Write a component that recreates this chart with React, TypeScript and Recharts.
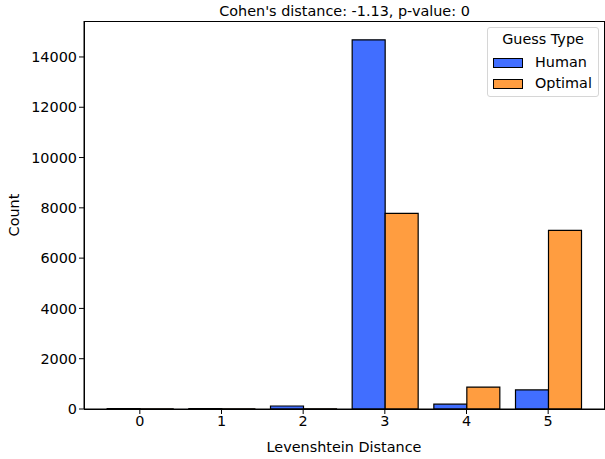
import React from 'react';
import { BarChart, Bar, XAxis, YAxis, Label } from 'recharts';

const categories = ['0', '1', '2', '3', '4', '5'];
const humanCounts = [15, 20, 120, 14680, 190, 760];
const optimalCounts = [5, 5, 10, 7780, 870, 7100];
const yTicks = [0, 2000, 4000, 6000, 8000, 10000, 12000, 14000];
const seriesNames = ['Human', 'Optimal'];
const legendTitle = 'Guess Type';
const chartTitle = "Cohen's distance: -1.13, p-value: 0";

const data = categories.map((c, i) => ({ cat: c, Human: humanCounts[i], Optimal: optimalCounts[i] }));

const FONT = '"DejaVu Sans", sans-serif';
const FS = 14.4;
const HUMAN = '#416eff';
const OPTIMAL = '#ff9d40';

export default function App() {
  return (
    <div style={{ position: 'absolute', left: 0, top: 0, width: 605, height: 459, background: '#fff', fontFamily: FONT }}>
      <BarChart width={605} height={459} data={data} margin={{ top: 21, right: 1, left: 0, bottom: 0 }} barCategoryGap="10%" barGap={0}>
        <XAxis dataKey="cat" height={50} padding={{ left: 15, right: 15 }} stroke="#000" tickSize={5}
          tick={{ fill: '#000', fontSize: FS, fontFamily: FONT }} tickLine={{ stroke: '#000' }} axisLine={{ stroke: '#000' }}>
          <Label value="Levenshtein Distance" position="insideBottom" offset={7} style={{ fill: '#000', fontSize: FS, fontFamily: FONT }} />
        </XAxis>
        <YAxis width={84} domain={[0, 15430]} ticks={yTicks} allowDataOverflow stroke="#000" tickSize={5}
          tick={{ fill: '#000', fontSize: FS, fontFamily: FONT }} tickLine={{ stroke: '#000' }} axisLine={{ stroke: '#000' }}>
          <Label value="Count" angle={-90} position="insideLeft" offset={14} style={{ fill: '#000', fontSize: FS, fontFamily: FONT, textAnchor: 'middle' }} />
        </YAxis>
        <Bar dataKey="Human" fill={HUMAN} stroke="#000" strokeWidth={1.2} isAnimationActive={false} />
        <Bar dataKey="Optimal" fill={OPTIMAL} stroke="#000" strokeWidth={1.2} isAnimationActive={false} />
      </BarChart>
      <div style={{ position: 'absolute', left: 83.5, top: 20.5, width: 521, height: 389, border: '1px solid #000', boxSizing: 'border-box', pointerEvents: 'none' }} />
      <div style={{ position: 'absolute', left: 0, width: 605, top: 3, textAlign: 'center', fontSize: FS, color: '#000', paddingLeft: 84, boxSizing: 'border-box', lineHeight: '17px' }}>
        {chartTitle}
      </div>
      <div style={{ position: 'absolute', left: 487, top: 27, width: 112, height: 70, border: '1px solid #d6d6d6', borderRadius: 3, background: 'rgba(255,255,255,0.8)', boxSizing: 'border-box', fontSize: FS, color: '#000' }}>
        <div style={{ position: 'absolute', left: 0, width: '100%', top: 3, textAlign: 'center', lineHeight: '17px' }}>{legendTitle}</div>
        {seriesNames.map((n, i) => (
          <div key={n} style={{ position: 'absolute', left: 5, top: 26 + i * 21, display: 'flex', alignItems: 'center', lineHeight: '17px' }}>
            <div style={{ width: 28, height: 8, background: i === 0 ? HUMAN : OPTIMAL, border: '1.2px solid #000' }} />
            <span style={{ marginLeft: 12 }}>{n}</span>
          </div>
        ))}
      </div>
    </div>
  );
}
